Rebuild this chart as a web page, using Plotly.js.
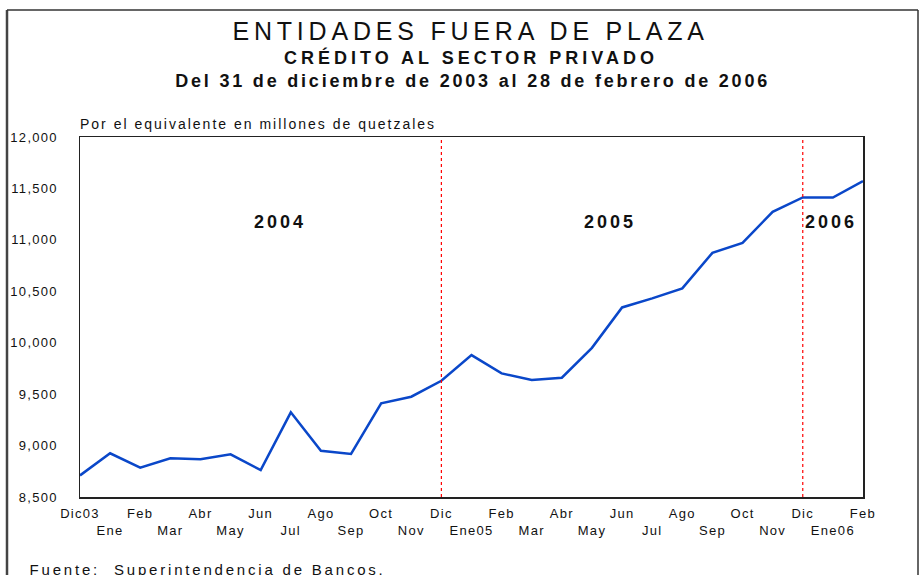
<!DOCTYPE html>
<html>
<head>
<meta charset="utf-8">
<script src="https://cdn.plot.ly/plotly-3.0.1.min.js"></script>
<style>html,body{margin:0;padding:0;background:#fff;}#chart{width:920px;height:575px;}
.xtick text,.ytick text{letter-spacing:1.3px;}</style>
</head>
<body>
<div id="chart"></div>
<script>
const months = ["Dic03","Ene","Feb","Mar","Abr","May","Jun","Jul","Ago","Sep","Oct","Nov","Dic",
  "Ene05","Feb","Mar","Abr","May","Jun","Jul","Ago","Sep","Oct","Nov","Dic","Ene06","Feb"];
const credito = [8710,8925,8785,8876,8866,8915,8762,9323,8950,8918,9410,9475,9630,
  9880,9702,9637,9660,9950,10343,10431,10528,10874,10971,11273,11412,11412,11571];
const yearLabels = ["2004","2005","2006"];
const yearLabelPos = [6.65,17.6,24.95];
const dividerIdx = [12,24];
const yTicks = [8500,9000,9500,10000,10500,11000,11500,12000];

const idx = months.map((m,i)=>i);
const tickText = months.map((m,i)=> i%2===0 ? m : "<br>"+m);

const L=80, R=863, T=137, B=497;
const px = x => (x-L)/(R-L);
const py = y => (B-y)/(B-T);
const FONT = 'Arial, Liberation Sans, sans-serif';

const shapes = dividerIdx.map(i=>({type:'line',xref:'x',yref:'y',x0:i,x1:i,y0:8500,y1:12000,
  line:{color:'#ff0000',width:1.2,dash:'dot'}}));
// outer frame
shapes.push({type:'line',xref:'paper',yref:'paper',x0:px(7),x1:px(7),y0:py(10),y1:py(600),line:{color:'#444',width:2.5}});
shapes.push({type:'line',xref:'paper',yref:'paper',x0:px(7),x1:px(918),y0:py(10),y1:py(10),line:{color:'#333',width:1.5}});
shapes.push({type:'line',xref:'paper',yref:'paper',x0:px(918),x1:px(918),y0:py(10),y1:py(600),line:{color:'#333',width:1.5}});

const annotations = [];
const spacing = [];
yearLabels.forEach((t,k)=>{
  annotations.push({x:yearLabelPos[k],y:11174,xref:'x',yref:'y',xanchor:'center',yanchor:'middle',text:'<b>'+t+'</b>',
    showarrow:false,font:{family:FONT,size:18,color:'#111'}});
  spacing.push('3px');
});
function addText(x,y,text,size,sp){
  annotations.push({xref:'paper',yref:'paper',x:px(x),y:py(y),xanchor:'center',yanchor:'middle',text:text,showarrow:false,
    font:{family:FONT,size:size,color:'#111'}});
  spacing.push(sp);
}
addText(471,31,'ENTIDADES FUERA DE PLAZA',25,'4.8px');
addText(471,58,'<b>CRÉDITO AL SECTOR PRIVADO</b>',18,'4px');
addText(472,81,'<b>Del 31 de diciembre de 2003 al 28 de febrero de 2006</b>',18,'2.8px');
addText(258,124,'Por el equivalente en millones de quetzales',14,'2px');
addText(207,569,'Fuente:  Superintendencia de Bancos.',15,'2.8px');

const data = [{x:idx,y:credito,type:'scatter',mode:'lines',line:{color:'#0a47c9',width:2.5},hoverinfo:'skip'}];

const layout = {
  width:920,height:575,
  margin:{l:L,r:920-R,t:T,b:575-B},
  paper_bgcolor:'#fff',plot_bgcolor:'#fff',
  showlegend:false,
  font:{family:FONT,size:13,color:'#111'},
  xaxis:{range:[0,26],tickmode:'array',tickvals:idx,ticktext:tickText,showgrid:false,zeroline:false,
    showline:true,linecolor:'#222',linewidth:1.5,mirror:true,ticks:'',tickfont:{size:13},tickangle:0,ticklabelstandoff:4},
  yaxis:{range:[8500,12000],tickmode:'array',tickvals:yTicks,tickformat:',d',showgrid:false,zeroline:false,
    showline:true,linecolor:'#222',linewidth:1.5,mirror:true,ticks:'',ticklabelstandoff:18,tickfont:{size:13}},
  shapes:shapes,
  annotations:annotations
};
Plotly.newPlot('chart',data,layout,{displayModeBar:false,staticPlot:true}).then(gd=>{
  const texts = gd.querySelectorAll('.annotation-text');
  texts.forEach((t,i)=>{ if(spacing[i]) t.style.letterSpacing = spacing[i]; });
});
</script>
</body>
</html>
